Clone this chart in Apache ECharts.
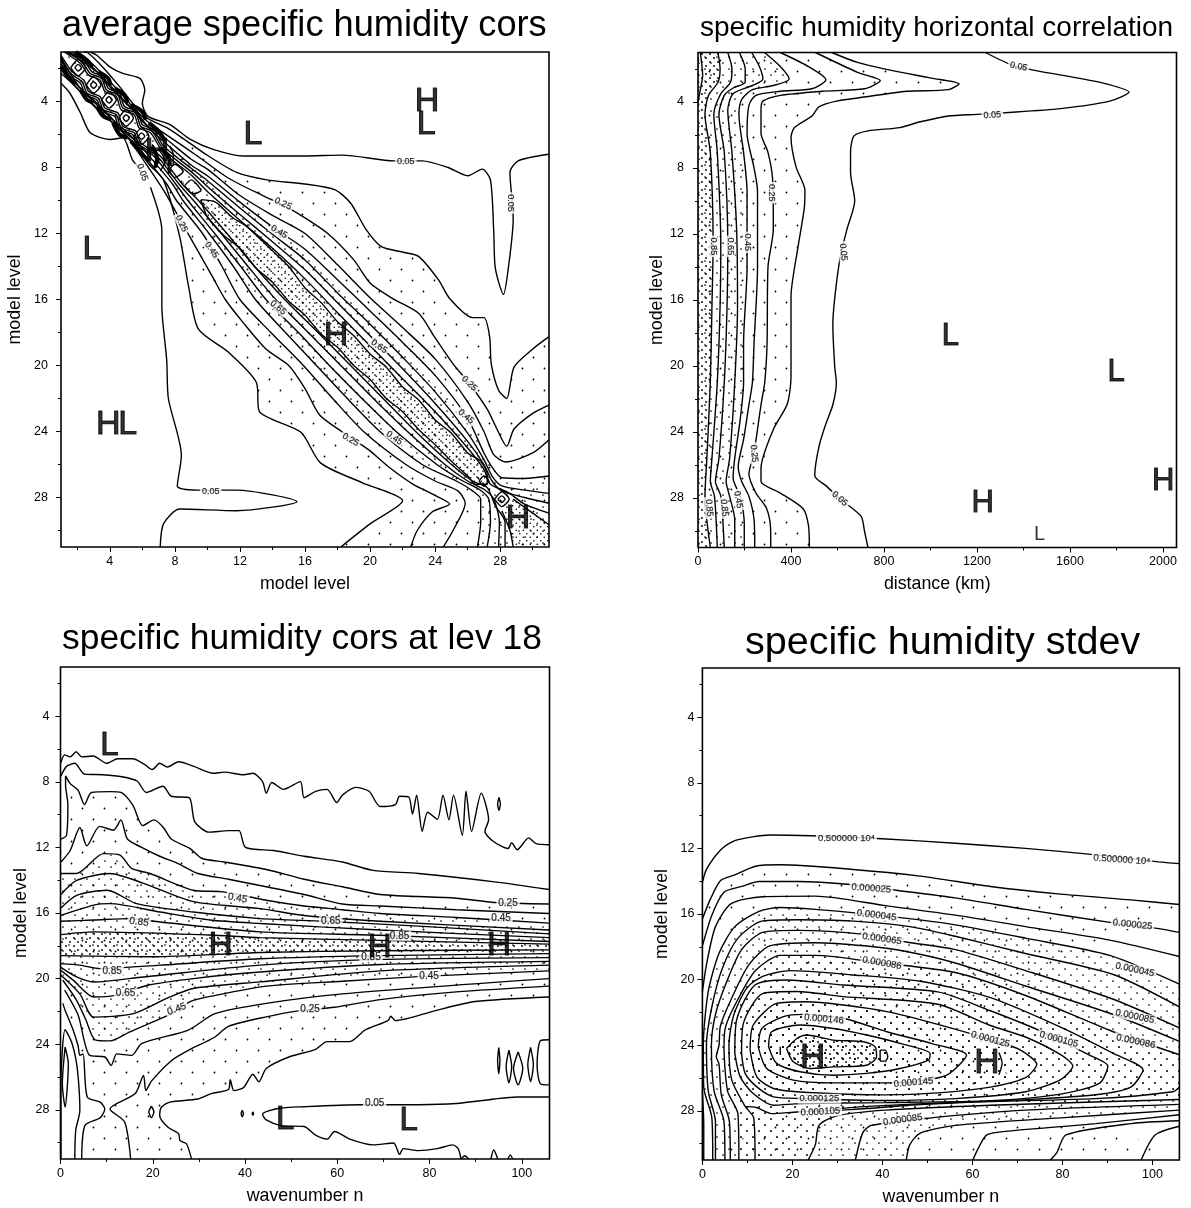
<!DOCTYPE html>
<html><head><meta charset="utf-8"><style>html,body{margin:0;padding:0;background:#fff}#c{width:1191px;height:1208px}</style>
<script src="https://cdn.jsdelivr.net/npm/echarts@6/dist/echarts.min.js"></script></head><body><div id="c"></div>
<script>
// ---------- panel 1: model level vs model level
const a05u=[[2.8,1],[3.2,1.2],[4,1.9],[4.8,2.3],[5.85,2.6],[6.15,3.3],[6,4.1],[6.35,4.9],[7.7,5.4],[8.95,6.3],[10.35,6.9],[12.2,7.3],[15.95,7.3],[18.3,7.25],[21.5,7.6],[23.2,7.6],[24.8,8],[26,8.5],[26.9,8.1],[27.4,8.75],[27.6,11.8],[27.7,14.1],[28.2,15.7],[28.5,14.1],[28.8,11.1],[28.6,8.3],[29.1,7.6],[31,7.2]];
const a15u=[[2.4,1],[2.65,1.05],[3.6,1.95],[4.6,3.1],[5.4,4.1],[6.3,5],[7.7,5.7],[9.9,7.2],[11.8,8.3],[13.65,8.75],[16,9],[17.85,9.35],[18.8,10.15],[19.75,11.75],[20.7,12.8],[22.1,13.15],[23,13.4],[24.2,14.8],[24.9,15.95],[26.3,17.1],[27,17.1],[27.35,18.25],[27.45,19.9],[27.9,21.5],[28.4,22],[28.85,20.1],[30,19],[31,18.25]];
const a25u=[[1.9,1],[2.9,1.7],[4.3,3.1],[5.3,4.2],[6.3,5.2],[7.6,6.1],[9.45,7.35],[11.3,8.65],[13.4,9.7],[14.6,10.25],[16,11.05],[17.4,12],[19,13.6],[20,15],[21.4,15.95],[23,16.85],[23.95,18.25],[25.1,19.9],[26.15,21.15],[27.2,22.65],[27.8,23.85],[28.4,24.9],[28.85,23.85],[30,22.9],[31,22.4]];
const a35u=[[1.7,1],[2.7,1.7],[4.1,3.1],[5.2,4.3],[6.2,5.4],[7.5,6.3],[9,7.5],[10,8.1],[12,9.7],[14,10.9],[16,12],[18,13.9],[20,15.9],[22,17.7],[24,19.6],[26,22.2],[27,24],[27.6,25.4],[28.35,25.85],[30,25.3],[31,24.5]];
const a45u=[[1.5,1],[2.5,1.7],[3.2,2.2],[4,3.1],[5,4.1],[5.6,4.6],[6.4,5.6],[7.4,6.5],[9,7.85],[10,8.5],[12,10.1],[14,11.6],[16,12.95],[18,14.8],[20,16.7],[22,18.6],[24,20.6],[26,23.2],[27,25.3],[27.6,26.3],[28.1,26.8],[29.5,26.85],[31,26.7]];
const a55u=[[1.4,1],[2.4,1.5],[2.9,2.2],[3.6,2.5],[3.9,3.2],[4.6,3.5],[4.9,4.3],[5.7,4.6],[6,5.4],[6.7,5.7],[7.3,6.7],[9,8.05],[10,8.8],[12,10.45],[14,12.05],[16,13.6],[18,15.6],[20,17.5],[22,19.5],[24,21.6],[26,24.1],[27,25.7],[27.5,26.7],[28.1,27.3],[29.5,27.55],[31,27.75]];
const a65u=[[1.3,1],[2.3,1.6],[2.8,2.3],[3.5,2.6],[3.8,3.3],[4.5,3.6],[4.8,4.4],[5.6,4.7],[5.9,5.5],[6.6,5.8],[7.3,6.9],[9,8.25],[10,9.15],[12,10.85],[14,12.5],[16,14.2],[18,16.2],[20,18.2],[22,20.2],[24,22.3],[26,24.6],[27,26],[27.5,27],[28.1,27.6],[29.5,28],[31,28.35]];
const a75u=[[1.2,1],[2.2,1.7],[2.7,2.4],[3.4,2.7],[3.7,3.4],[4.4,3.7],[4.7,4.5],[5.5,4.8],[5.8,5.6],[6.5,5.9],[7.3,7.1],[9,8.45],[10,9.45],[12,11.2],[14,12.9],[16,14.75],[18,16.8],[20,18.8],[22,20.8],[24,22.8],[26,25],[27,26.3],[27.4,27.2],[28.5,27.7],[29.5,28.4],[31,28.95]];
const a85u=[[28.8,28.1],[30,28.95],[31,29.65]];
const a05l=[[1,2.9],[1.55,3.5],[2.2,4.7],[2.8,5.9],[4,6.3],[4.8,6.2],[5.4,7.55],[5.9,8.1]];
const a05lb=[[6.5,9.2],[7.2,11.8],[7.2,16.4],[7.5,19.7],[7.6,22],[8.4,25.45],[8.15,27.3],[9.45,27.55],[11.8,27.55],[15.5,28.25],[11.8,28.8],[8.3,28.7],[7.3,29.6],[7.1,31]];
const a15l=[[1,2.3],[1.7,2.9],[3.05,4.3],[4.35,5.45],[5.6,6.65],[6.4,7.8],[7.3,8.75],[8.3,12.2],[8.85,15.25],[9.45,17.8],[11.3,19.2],[13,21],[13.2,22.8],[15.75,24.05],[16.95,25.9],[19.5,27.1],[22,28.2],[20,29.6],[18.2,31]];
const a25l=[[1,1.9],[1.7,2.9],[3.1,4.3],[4.2,5.3],[5.2,6.3],[6.1,7.6],[7.35,9.45],[8.4,11.3],[9.5,13.2],[10.3,14.6],[11.1,16],[12.2,17.4],[13.6,19],[15,20],[16,21.4],[16.9,23],[18.25,24],[19.9,25.1],[21.15,26.15],[22.65,27.2],[23.85,27.8],[24.9,28.4],[23.85,28.85],[22.9,30],[22.5,31]];
const a35l=[[1,1.7],[1.7,2.7],[3.1,4.1],[4.3,5.2],[5.4,6.2],[6.3,7.5],[7.5,9],[8.1,10],[9.7,12],[10.9,14],[12,16],[13.9,18],[15.9,20],[17.7,22],[19.6,24],[22.2,26],[24,27],[25.4,27.6],[25.85,28.35],[25.1,30],[24.5,31]];
const a45l=[[1,1.5],[1.7,2.5],[2.2,3.2],[3.1,4],[4.1,5],[4.6,5.6],[5.6,6.4],[6.5,7.4],[7.85,9],[8.5,10],[10.1,12],[11.6,14],[12.95,16],[14.8,18],[16.7,20],[18.6,22],[20.6,24],[23.2,26],[25.3,27],[26.3,27.6],[26.8,28.1],[26.8,29.5],[26.6,31]];
const a55l=[[1,1.4],[1.5,2.4],[2.2,2.9],[2.5,3.6],[3.2,3.9],[3.5,4.6],[4.3,4.9],[4.6,5.7],[5.4,6],[5.7,6.7],[6.7,7.3],[8.05,9],[8.8,10],[10.45,12],[12.05,14],[13.6,16],[15.6,18],[17.5,20],[19.5,22],[21.6,24],[24.1,26],[25.7,27],[26.7,27.5],[27.3,28.1],[27.4,29.5],[27.2,31]];
const a65l=[[1,1.3],[1.6,2.3],[2.3,2.8],[2.6,3.5],[3.3,3.8],[3.6,4.5],[4.4,4.8],[4.7,5.6],[5.5,5.9],[5.8,6.6],[6.9,7.3],[8.25,9],[9.15,10],[10.85,12],[12.5,14],[14.2,16],[16.2,18],[18.2,20],[20.2,22],[22.3,24],[24.6,26],[26,27],[27,27.5],[27.6,28.1],[27.95,29.5],[27.9,31]];
const a75l=[[1,1.2],[1.7,2.2],[2.4,2.7],[2.7,3.4],[3.4,3.7],[3.7,4.4],[4.5,4.7],[4.8,5.5],[5.6,5.8],[5.9,6.5],[7.1,7.3],[8.45,9],[9.45,10],[11.2,12],[12.9,14],[14.75,16],[16.8,18],[18.8,20],[20.8,22],[22.8,24],[25,26],[26.3,27],[27.2,27.4],[27.7,28.5],[28.3,29.5],[28.3,31]];
const a85l=[[28.1,28.8],[28.6,30],[28.8,31]];
const a85band=[[9.6,9.95],[10.5,10.1],[11.5,11],[12.3,11.5],[13,12.1],[14,13.05],[15,14],[16,15.3],[17,16.2],[18,17.35],[19,18.2],[20,19.3],[21,20.1],[22,21.3],[23,22.1],[24,23.3],[25,24.1],[26,25.3],[26.8,25.8],[27.2,26.6],[27.2,27.2],[26.5,27.2],[26,26.7],[25,25.8],[24,24.8],[23,23.9],[22,22.8],[21,22],[20,20.85],[19,20],[18,18.9],[17,18.1],[16,16.95],[15,16.1],[14,14.95],[13,14.1],[12,12.9],[11,12.1],[10,11],[9.6,9.95]];
const aLoops=[
 [[1.6,1.95],[2.05,1.45],[2.5,1.95],[2.05,2.45],[1.6,1.95]],[[1.85,1.95],[2.05,1.75],[2.25,1.95],[2.05,2.15],[1.85,1.95]],
 [[2.55,3],[3,2.5],[3.45,3],[3,3.5],[2.55,3]],[[2.8,3],[3,2.8],[3.2,3],[3,3.2],[2.8,3]],
 [[3.5,3.9],[3.95,3.4],[4.4,3.9],[3.95,4.4],[3.5,3.9]],[[3.75,3.9],[3.95,3.7],[4.15,3.9],[3.95,4.1],[3.75,3.9]],
 [[4.55,5],[5,4.5],[5.45,5],[5,5.5],[4.55,5]],[[4.8,5],[5,4.8],[5.2,5],[5,5.2],[4.8,5]],
 [[5.5,6.1],[5.95,5.6],[6.4,6.1],[5.95,6.6],[5.5,6.1]],[[5.75,6.1],[5.95,5.9],[6.15,6.1],[5.95,6.3],[5.75,6.1]],
 [[7.6,8.2],[8,7.8],[8.5,8.25],[8,8.6],[7.6,8.2]],
 [[8.6,9.1],[9,8.75],[9.6,9.4],[9.1,9.6],[8.6,9.1]],
 [[26.7,27],[27,26.7],[27.3,27],[27,27.3],[26.7,27]],
 [[27.65,28.1],[28.1,27.65],[28.55,28.1],[28.1,28.55],[27.65,28.1]],[[27.85,28.1],[28.1,27.9],[28.3,28.1],[28.1,28.3],[27.85,28.1]]
];
const aThick=[
 [[1.9,1],[2.6,1.5],[2.95,1.9]],[[3.3,2.2],[3.9,2.6],[4.05,3]],[[4.3,3.2],[4.9,3.6],[5.1,4.1]],[[5.3,4.2],[6,4.6],[6.2,5.1]],[[6.4,5.3],[7,5.8],[7.4,6.4]],
 [[1,1.9],[1.5,2.6],[1.9,2.95]],[[2.2,3.3],[2.6,3.9],[3,4.05]],[[3.2,4.3],[3.6,4.9],[4.1,5.1]],[[4.2,5.3],[4.6,6],[5.1,6.2]],[[5.3,6.4],[5.8,7],[6.4,7.6]],
 [[6.6,6.7],[6.9,7.4],[6.8,8]],[[7.1,6.8],[7.6,7.3],[7.7,7.9]]
];
const aBlack=[[[6.6,6.6],[7,7.6],[6.7,8.1]],[[7,6.9],[7.4,7.6],[7.1,8.2]],[[7.2,7],[7.6,7.5],[7.6,8.4]],[[7.7,6.7],[7.9,7.2],[7.9,7.9]]];
const aLabels=[[22.2,7.65,'0.05',0],[28.65,10.15,'0.05',-90],[14.65,10.2,'0.25',-25],[14.4,11.9,'0.45',-30],[26.1,21.1,'0.25',-45],[25.9,23.1,'0.45',-40],[20.55,18.85,'0.65',-35],[6,8.3,'0.05',-70],[8.4,11.4,'0.25',-65],[10.25,13,'0.45',-55],[14.35,16.5,'0.65',-40],[18.8,24.5,'0.25',-30],[21.5,24.4,'0.45',-35],[10.2,27.65,'0.05',0]];
const aLetters=[[12.8,6,'L'],[23.45,5.4,'L'],[23.5,4,'H'],[2.9,13,'L'],[3.9,23.6,'H'],[5.1,23.6,'L'],[17.9,18.2,'H'],[6.9,7.05,'H'],[29.1,29.3,'H']];

// ---------- panel 2: distance (km) vs model level
const b05=[[1236,1],[1349,1.75],[1454,2.1],[1635,2.55],[1756,2.9],[1854,3.4],[1771,3.95],[1560,4.4],[1319,4.65],[1198,4.75],[1078,4.85],[957,5.2],[867,5.55],[731,5.75],[671,6.05],[656,7.05],[656,8.25],[674,10],[641,11.7],[610,13.55],[588,15.9],[580,17.5],[588,20.05],[595,21],[580,22.35],[550,23.5],[520,24.9],[502,26.65],[550,27.25],[610,28.05],[701,29.1],[716,30],[731,31]];
const b15=[[575,1],[686,1.6],[837,2.1],[1003,2.55],[1123,2.9],[1078,3.25],[897,3.35],[716,3.7],[595,3.95],[520,4.3],[490,4.85],[415,5.55],[400,6.15],[422,7.95],[460,9.35],[457,10.45],[430,12.8],[400,15.8],[400,20.65],[384,22.3],[324,23.85],[271,26.2],[271,27],[354,27.7],[452,28.65],[475,29.65],[479,31]];
const b25=[[505,1],[686,2.2],[784,2.7],[716,3.2],[535,3.35],[354,3.6],[279,3.95],[271,4.5],[271,5.9],[301,7.05],[321,8.7],[324,11.7],[301,14],[297,18.65],[287,21],[271,22.35],[241,25.25],[219,26.55],[249,27.7],[294,28.6],[312,29.8],[313,31]];
const b35=[[354,1],[475,1.85],[550,2.65],[490,3.2],[354,3.35],[249,3.6],[219,4.2],[211,5.9],[241,8],[256,9.4],[256,14],[241,18.65],[234,21],[219,22.35],[196,24.45],[173,26.1],[188,27],[219,27.9],[241,29.3],[244,31]];
const b45=[[286,1],[354,1.85],[392,2.6],[324,3],[234,3.25],[188,3.85],[176,4.75],[196,7.05],[211,9.4],[211,14],[196,18.65],[196,21],[181,23.3],[158,25.6],[151,26.8],[181,27.9],[199,29.55],[199,31]];
const b55=[[231,1],[264,1.85],[279,2.6],[234,3],[151,3.5],[128,4.5],[146,7.05],[166,11.7],[170,16.35],[158,21],[136,25.6],[121,27],[136,27.9],[158,29.3],[158,31]];
const b65=[[178,1],[203,2],[203,2.8],[151,3.15],[113,3.6],[90,4.75],[113,7.05],[128,12.6],[125,16.35],[113,21],[90,25.6],[75,27],[98,27.9],[113,31]];
const b75=[[128,1],[146,2],[140,2.8],[98,3.5],[68,4.75],[83,7.05],[98,12.6],[95,16.35],[83,21],[60,25.6],[53,27],[71,27.9],[83,31]];
const b85=[[86,1],[95,2],[86,2.8],[45,3.6],[30,4.75],[53,7.05],[65,12.6],[60,16.35],[53,21],[38,25.6],[30,27.9],[53,31]];
const b95=[[10,1],[20,2.4],[8,3.4],[0,4]];
const bLabels=[[1379,1.85,'0.05',-12],[1266,4.8,'0.05',4],[625,13.1,'0.05',-85],[610,28.05,'0.05',-40],[316,9.5,'0.25',-90],[241,25.3,'0.25',-85],[65,12.75,'0.85',-90],[140,12.75,'0.65',-90],[211,12.5,'0.45',-90],[48,28.6,'0.85',-85],[113,28.6,'0.85',-85],[173,28.1,'0.45',-80]];
const bLetters=[[1085,18.2,'L'],[1798,20.4,'L'],[1224,28.35,'H'],[2001,27,'H']];
const bSmall=[[1469,30.2,'L']];

// ---------- panel 3: wavenumber n vs model level
const cA=[[0.1,6.83],[0.9,6.36],[2.1,6.48],[3.4,6.17],[4.6,6.48],[7.1,6.43],[10,6.87],[12.4,6.59],[15.7,6.59],[18.2,6.94],[19.9,7.25],[21.5,6.87],[23.2,7.1],[25.6,6.78],[28.9,7.06],[33.1,7.48],[35.5,7.41],[39.7,7.57],[41.7,7.48],[43.8,7.99],[44.6,8.69],[45.8,8.04],[48.3,8.46],[52,7.99],[52.8,8.97],[55.3,8.58],[57.8,8.46],[59.9,9.27],[61.1,8.81],[64,8.34],[66.9,8.58],[69.3,9.51],[72.6,9.39],[73.5,8.88],[75.5,8.93],[76.3,9.97],[77.2,8.81],[78.4,11.02],[79.6,9.86],[81.7,10.28],[82.9,8.81],[84.2,10.32],[85.2,8.81],[87.1,11.26],[87.9,8.58],[89.1,11.02],[91.2,8.69],[92.8,10.32],[92,11.02],[93.7,11.61],[97,12.07],[97.8,11.72],[99,12.14],[101.5,11.42],[103.1,11.77],[105.9,11.84]];
const cL2=[[0.1,7.64],[1.3,7.06],[3.1,6.87],[5.2,7.53],[9.2,7.57],[13.3,7.69],[16.6,7.95],[18.6,8.65],[22.2,8.27],[24,8.88],[27.9,8.97],[29.1,10.44],[32.2,11.07],[36.4,10.98],[38.7,10.98],[40.1,12],[46.2,12.19],[52.8,12.54],[61.1,12.89],[67.7,13.4],[77.6,13.59],[94.1,14.1],[105.9,14.57]];
const cL3=[[0.1,11.49],[1.3,11.26],[1.6,9.39],[1.1,8.2],[1.1,7.64],[2.1,8.11],[3.8,8.51],[5.2,9.39],[6.7,8.65],[10.8,8.6],[13.1,8.65],[15.7,9.44],[17.8,10.67],[20.3,10.32],[22.3,10.79],[24,11.49],[28.1,12.07],[30.6,12.66],[35.5,12.89],[44.6,13.35],[52.8,13.94],[61.1,14.4],[69.3,14.87],[85.8,15.1],[94.1,15.36],[105.9,15.45]];
const cL35=[[0.1,12.89],[2.1,12.19],[4.2,10.79],[5.7,11.91],[8.5,10.72],[11.5,10.95],[13.1,10.32],[14.5,11.49],[17.6,12],[21.5,12.54],[25.6,13],[29.8,13.59],[36.4,13.94],[44.6,14.4],[52.8,14.87],[61.1,15.45],[69.3,15.57],[85.8,15.8],[105.9,16.03]];
const cA45=[[0.1,13.59],[3.5,13.59],[9.3,12.38],[12.9,12.47],[15.4,13.28],[19.4,13.59],[28.8,14.61],[35.3,14.71],[44.6,15.22],[52.8,15.57],[61.1,15.8],[69.3,16.03],[85.8,16.27],[105.9,16.62]];
const cB55=[[0.1,14.87],[3.5,14.01],[10.7,13.59],[18,14.19],[28.8,15.31],[43.3,15.73],[52.8,16.15],[69.3,16.5],[105.9,17.04]];
const cC65=[[0.1,15.69],[3.5,14.92],[10.1,14.61],[16.5,15.43],[28.8,15.94],[43.3,16.34],[57,16.5],[77.6,16.8],[105.9,17.27]];
const cD75=[[0.1,16.15],[7.2,15.52],[10.7,15.43],[21.6,15.94],[32.4,16.43],[43.3,16.64],[69.3,17.04],[105.9,17.5]];
const cE85=[[0.1,16.5],[7.2,16.43],[15.1,16.34],[21.6,16.55],[43.3,17.15],[69.3,17.36],[105.9,17.74]];
const cF95=[[0,17.32],[7.2,17.15],[32.2,17.34],[43.3,17.5],[69.3,17.67],[106,17.9]];
const cG95=[[0,18.6],[19.9,18.67],[43.3,18.41],[69.3,18.3],[106,18.25]];
const cH85=[[0,19.09],[4.2,19.18],[8.6,19.39],[21.6,19.18],[43.3,18.79],[69.3,18.6],[105.9,18.48]];
const cI75=[[0,19.3],[3.5,19.9],[7.2,20.21],[18,19.9],[43.3,19.18],[69.3,18.83],[105.9,18.72]];
const cJ65=[[0,19.48],[2.8,20.11],[7.2,21.12],[11.8,21.02],[18.7,20.42],[28.8,20],[43.3,19.6],[69.3,19.14],[105.9,18.95]];
const cK55=[[0,19.76],[4.2,20.93],[7.2,22.35],[15.8,22.14],[23.7,21.12],[28.8,20.6],[43.3,20.2],[69.3,19.53],[105.9,19.18]];
const cL45=[[0.5,20.1],[3.4,21.28],[5.4,22.45],[7.5,23.73],[10.8,23.8],[14.9,23.26],[20.7,22.56],[24.1,22.14],[28.1,21.4],[33.1,21.05],[44.6,20.46],[61.1,20.16],[77.6,19.88],[105.9,19.53]];
const cR35=[[0.9,20.7],[3.8,22.21],[6.3,24.68],[9.6,24.78],[11,25.29],[12.2,24.59],[15.4,24.68],[17.6,23.96],[27.7,23.14],[33.5,22.14],[44.6,21.51],[61.1,20.93],[105.9,20]];
const cU25=[[15.2,31],[13.9,28.74],[10.7,27.95],[16.2,27.01],[18,25.9],[18.5,26.83],[19.8,26.22],[24.1,24.99],[27.7,24.38],[33.5,23.56],[36.4,22.91],[44.6,22.33],[51.2,21.98],[59.4,21.75],[69.3,21.28],[85.8,20.81],[105.9,20.46]];
const cV15=[[28.4,31],[27.3,30.07],[25.9,29.88],[25.6,29.46],[23.3,29.07],[21.5,28.34],[21.9,27.83],[23.7,27.53],[29.8,27.34],[32.7,27.01],[36.4,26.76],[36.8,26.17],[37.6,26.83],[39.7,26.64],[41.7,25.83],[43,26.29],[44.6,25.48],[49.5,24.78],[55.3,24.31],[57.8,23.84],[62.7,23.84],[66,23.14],[71,22.56],[71.6,22.3],[72.6,22.56],[80.9,21.98],[89.9,21.4],[105.9,21.12]];
const cW05=[[105.9,27.22],[99,27.22],[94.1,27.34],[85.8,27.62],[77.6,27.69],[65.2,27.69],[52.8,27.81],[47.1,27.92],[43.8,28.27],[44.6,28.62],[47.9,28.97],[52.8,29.02],[55.3,29.55],[57.8,29.79],[59.4,29.32],[62.7,29.79],[67.7,30.14],[72.2,30.02],[73.5,30.72],[74.3,30.37],[77.6,30.49],[81.7,30.37],[85,30.14],[86.2,30.37],[86.8,31]];
const cQ=[[0.5,21.51],[1,21.93],[2.6,23.03],[3.8,24.08],[4.2,24.68],[4.9,24.59],[5.8,27.22],[8.6,27.53],[9.6,27.95],[8.6,28.48],[5.3,28.95],[4.6,31]];
const cP=[[0.1,31],[0.1,26.41],[1,23.12],[2.4,23.87],[3.5,25.2],[4,26.62],[4.2,28.04],[3.3,29.25],[3.1,31]];
const cBits=[
 [[1,24.17],[1.7,25.2],[1,27.83],[0.4,26.41],[1,24.17]],
 [[95.05,8.95],[95.35,9.35],[95.05,9.75],[94.75,9.35],[95.05,8.95]],
 [[95,24.2],[95.25,25],[95,25.8],[94.75,25],[95,24.2]],
 [[97.2,24.36],[97.8,25.36],[97.2,26.36],[96.6,25.36],[97.2,24.36]],
 [[99.2,24.48],[100.2,25.48],[99.2,26.48],[98.2,25.48],[99.2,24.48]],
 [[101.9,24.19],[102.5,25.24],[101.9,26.29],[101.3,25.24],[101.9,24.19]],
 [[105.9,23.73],[104,23.8],[103.3,25.24],[104,26.4],[105.9,26.48]],
 [[19.7,27.78],[20.25,28.13],[19.7,28.48],[19.15,28.13],[19.7,27.78]],
 [[39.4,28.03],[39.65,28.23],[39.4,28.43],[39.15,28.23],[39.4,28.03]],
 [[41.7,28.13],[41.85,28.23],[41.7,28.33],[41.55,28.23],[41.7,28.13]],
 [[86.9,31],[87.6,30.8],[88.5,31]],[[93.3,31],[93.9,30.45],[94.8,31]],[[97,31],[97.5,30.75],[98,31]]
];
const cLabels=[[38.4,15.1,'0.45',-10],[97,15.38,'0.25',0],[95.5,16.34,'0.45',0],[58.6,16.5,'0.65',0],[17,16.55,'0.85',-8],[73.5,17.39,'0.85',0],[67.3,18.72,'0.85',0],[11.2,19.53,'0.85',0],[14.1,20.88,'0.65',0],[25.2,21.86,'0.45',20],[54.1,21.84,'0.25',0],[79.9,19.83,'0.45',0],[68.1,27.62,'0.05',0]];
const cLetters=[[34.7,18,'H'],[69.2,18.1,'H'],[95.1,18,'H'],[10.6,5.8,'L'],[75.5,28.7,'L'],[48.7,28.6,'L']];

// ---------- panel 4: wavenumber n vs model level
const d05=[[0,14.09],[0.9,13.28],[4,12.11],[7.2,11.53],[11.1,11.3],[15,11.18],[24.3,11.23],[39.9,11.41],[56.2,11.69],[71.8,12],[85.8,12.35],[101.4,12.82],[106,12.93]];
const d15=[[0,16.3],[1.7,15.14],[4,13.97],[7.2,13.62],[11.8,13.09],[17.3,13],[32.9,13.27],[48.4,13.69],[64,14.32],[79.6,14.79],[95.2,15.14],[106,15.42]];
const d25=[[0,17.94],[2.1,16.07],[4.8,14.67],[8.7,14.32],[12.6,14.02],[21.2,14.02],[32.9,14.2],[43,14.55],[56.2,15.02],[71.8,15.72],[91.3,16.54],[101.4,16.89],[106,17.12]];
const d35=[[106,18.59],[90.5,17.59],[71.8,16.77],[56.2,16.07],[40.7,15.49],[25.1,14.91],[13.4,14.95],[6.4,15.37],[2.9,16.77],[0.9,19.1],[0,20.74]];
const d35b=[[0,26.8],[0.3,28.9],[0.3,31]];
const d45=[[106,20.27],[90.5,18.52],[71.8,17.47],[56.2,16.66],[43,16.19],[25.1,15.72],[17.3,15.6],[12.6,15.84],[7.2,16.77],[3.7,18.4],[1.3,20.74],[0.2,24],[0.3,26.57],[2.1,28.43],[2.3,31]];
const d55=[[106,21.67],[91.3,19.69],[71.8,18.41],[56.2,17.36],[46.1,16.77],[32.9,16.42],[21.2,16.35],[13.4,16.42],[7.9,17.47],[4.4,19.34],[2.1,21.67],[0.9,24],[1.3,26.8],[2.9,28.66],[2.9,31]];
const d65=[[106,22.95],[91.3,21.2],[71.8,19.45],[56.2,18.17],[45.3,17.71],[36,17.24],[21.2,17],[13.4,17.12],[8.7,18.17],[5.2,20.27],[2.9,22.13],[2,24],[2.6,26.8],[4.8,28.66],[5,31]];
const d75=[[106,23.77],[91.3,22.13],[71.8,20.39],[56.2,18.99],[45.3,18.29],[36,17.94],[25.1,17.75],[15,17.94],[10.3,19.1],[6.4,21.2],[4,22.83],[3.7,24],[3.1,24.7],[3.7,25.16],[4.2,27.03],[6,28.66],[6.2,31]];
const d85=[[106,24.58],[91.3,23.18],[71.8,20.97],[56.2,19.57],[39.9,18.99],[25.1,18.52],[17.3,18.52],[11.8,19.45],[7.9,21.2],[5.2,22.83],[4.8,24],[5.6,26.8],[7.9,28.19],[8.1,31]];
const d95=[[11.7,31],[11.4,28.43],[9.5,27.73],[6.5,26.1],[5.9,24],[7,22.13],[9.9,20.5],[13.4,19.8],[19.6,19.45],[32.9,19.7],[48.4,20.1],[64,21.1],[79.6,22.9],[91.3,24.5],[97.9,25.5],[95.2,26.55],[87.4,27.02],[71.8,27.32],[48.4,27.62],[32.9,27.93],[21,28.07],[15.4,28.17],[12,27.8],[9.5,27.73]];
const d105=[[7.2,24.5],[7.6,22.47],[11.7,20.33],[18.7,20.02],[31.3,20.33],[52.3,20.75],[64,21.9],[75.7,23.2],[85.8,24.58],[90.1,25.27],[88.2,26.33],[79.6,26.98],[64,27.38],[40.7,27.5],[21.7,27.56],[15.8,27.66],[11.3,26.95],[8.4,25.93],[7.2,24.5]];
const d115=[[8.7,24.5],[9.1,22.67],[13.5,20.84],[21,20.73],[31.3,21.04],[52.3,21.5],[64,22.8],[71.8,23.5],[79.6,24.58],[82.3,25.27],[79.6,26.1],[71.8,26.84],[56.2,27.26],[40.7,27.37],[21.7,27.25],[15.8,27.15],[12.1,26.54],[9.5,25.72],[8.7,24.5]];
const d125=[[10.6,24.3],[11.3,22.77],[16.5,21.45],[23.2,21.35],[31.3,21.55],[41,21.95],[51.3,22.65],[64,23.65],[70.2,24.23],[74.3,25.16],[71.8,25.98],[64,26.56],[52.3,26.91],[40.7,27.03],[21.7,26.85],[15.8,26.64],[12.1,25.93],[10.6,24.3]];
const d145=[[12.4,24.1],[13.2,22.98],[18,22.26],[22.4,22.12],[31.3,22.36],[41,23.18],[51,23.9],[58.7,24.6],[54.3,25.83],[46.9,26.23],[41,26.3],[29.1,26.3],[20.2,26.13],[14.3,25.42],[12.4,24.1]];
const d155=[[14.7,24.1],[15.4,23.18],[21.7,22.77],[29.1,22.98],[36.5,23.38],[43.9,23.89],[50.6,24.5],[50.2,24.91],[43.9,25.42],[36.5,25.72],[29.1,25.83],[21.7,25.62],[16.5,25.11],[14.7,24.1]];
const d165=[[18.7,24.2],[21,23.59],[23.2,23.38],[29.1,23.69],[35.8,23.79],[38.4,24.1],[38.7,24.71],[36.5,25.22],[29.1,25.32],[23.9,25.42],[20.2,25.01],[18.7,24.2]];
const dBits=[[[39.5,24.3],[40.6,24.3],[41.2,24.71],[40.6,24.97],[39.5,24.97],[39.5,24.3]],[[17.3,24.1],[17.3,24.6]],[[65.9,24.45],[66.6,25.1],[65.9,25.8]]];
const dB0=[[106,26.56],[104.5,26.84],[87.4,27.26],[56.2,27.49],[36.8,27.73],[29,27.9]];
const dB1=[[23.5,31],[25.1,30.06],[25.9,28.89],[29.8,28.31],[40.7,27.96],[64,27.66],[106,27.31]];
const dB2=[[34,31],[35.6,29.36],[37.5,28.89],[50.8,28.43],[71.8,27.96],[106,27.61]];
const dB3=[[45.3,31],[46.1,30.06],[48.4,29.36],[56.2,28.89],[79.6,28.43],[106,27.96]];
const dB4=[[60.1,31],[61.3,30.29],[63.2,29.47],[67.9,29.24],[87.4,28.78],[106,28.24]];
const dB5=[[77.3,31],[78.8,30.53],[80.8,29.47],[95.2,28.78],[106,28.61]];
const dB6=[[97.5,31],[100.6,29.47],[106,28.94]];
const dLabels=[[32,11.36,'0.500000 10⁴',0],[93.2,12.7,'0.500000 10⁴',-4],[37.5,14.45,'0.000025',-4],[95.6,16.65,'0.000025',-6],[38.7,16.08,'0.000045',-7],[96.1,19.4,'0.000045',-12],[39.9,17.52,'0.000065',-8],[96.1,22.25,'0.000085',-12],[39.9,18.99,'0.000086',-10],[96.3,23.77,'0.000086',-12],[27,22.41,'0.000146',-5],[64,23.65,'0.000125',-15],[79.2,23.65,'0.000105',-15],[46.9,26.28,'0.000145',5],[26,27.26,'0.000125',0],[26.2,28.07,'0.000105',3],[44.5,28.55,'0.000085',8]];
const dLetters=[[24.5,24.8,'H'],[63.2,25.1,'H']];

// ---------- ticks
const levelMajor=[4,8,12,16,20,24,28];
const levelMinor=[2,6,10,14,18,22,26,30];
const kmMajor=[0,400,800,1200,1600,2000];
const kmMinor=[200,600,1000,1400,1800];
const waveMajor=[0,20,40,60,80,100];
const waveMinor=[10,30,50,70,90];

// ---------- stipple patterns
function dots(step,r){
  const c=document.createElement('canvas');c.width=step*2;c.height=step*2;
  const g=c.getContext('2d');g.fillStyle='#000';
  [[.5,.5],[1.5,1.5]].forEach(p=>{g.beginPath();g.arc(p[0]*step,p[1]*step,r,0,7);g.fill();});
  return {image:c,repeat:'repeat'};
}
const sparse=dots(11,.9), medium=dots(6,.85), dense=dots(3.5,.8), strip=dots(4,.95);

const grids=[
 {left:61,top:52,width:488,height:495},
 {left:698,top:52.5,width:478.5,height:495},
 {left:60.5,top:667,width:489,height:492},
 {left:702.4,top:668,width:477,height:492}
];
const titles=[
 ['average specific humidity cors',62,8,36.2],
 ['specific humidity horizontal correlation',700,14,28],
 ['specific humidity cors at lev 18',62,622,35.4],
 ['specific humidity stdev',745,623,39.5]
];
const rev=a=>a.slice().reverse();
const panels=[
 {xr:[1,31],xM:levelMajor,xm:levelMinor,xn:'model level',ym:13,yg:37,
  lines:[a05u,a15u,a25u,a35u,a45u,a55u,a65u,a75u,a85u,a05l,a05lb,a15l,a25l,a35l,a45l,a55l,a65l,a75l,a85l,a85band,...aLoops,...aBlack],
  thick:aThick,
  stip:[[a15u.concat([[31,31]],rev(a15l),[[1,1]]),sparse],[a45u.concat([[31,31]],rev(a45l)),medium],[a85band,dense],[a85u.concat([[31,31]],rev(a85l)),dense]],
  labels:aLabels,fs:9,letters:aLetters,ls:34},
 {xr:[0,2058],xM:kmMajor,xm:kmMinor,xn:'distance (km)',ym:14,yg:31.5,
  lines:[b05,b15,b25,b35,b45,b55,b65,b75,b85,b95],
  stip:[[b15.concat([[0,31],[0,1]]),sparse],[b45.concat([[0,31],[0,1]]),medium],[b85.concat([[0,31],[0,1]]),strip]],
  labels:bLabels,fs:9,letters:bLetters,ls:31,small:bSmall},
 {xr:[0,106],xM:waveMajor,xm:waveMinor,xn:'wavenumber n',ym:11,yg:30.5,
  lines:[cA,cL2,cL3,cL35,cA45,cB55,cC65,cD75,cE85,cF95,cG95,cH85,cI75,cJ65,cK55,cL45,cR35,cU25,cV15,cW05,cQ,cP,...cBits],
  stip:[[cL3.concat([[106,15.45],[106,21.12]],rev(cV15),rev(cQ)),sparse],
        [cA45.concat([[106,16.62],[106,19.53]],rev(cL45)),medium],
        [cF95.concat(rev(cG95)),strip]],
  labels:cLabels,fs:10,letters:cLetters,ls:33},
 {xr:[0,106],xM:waveMajor,xm:waveMinor,xn:'wavenumber n',ym:8,yg:31,
  lines:[d05,d15,d25,d35,d35b,d45,d55,d65,d75,d85,d95,d105,d115,d125,d145,d155,d165,dB0,dB1,dB2,dB3,dB4,dB5,dB6,...dBits],
  stip:[[rev(d15).concat([[106,31],[0,31]]),sparse],
        [d45.concat(dB3,[[106,27.96]]),medium],
        [d85.concat(dB1,[[106,27.31]]),medium],
        [d125,medium],[d165,strip],[d155,medium]],
  labels:dLabels,fs:9.5,letters:dLetters,ls:35}
];
const FONT='"Liberation Sans",Arial,sans-serif';
const hidden={color:'rgba(0,0,0,0)'};
const opt={animation:false,backgroundColor:'#fff',
 title:titles.map(t=>({text:t[0],left:t[1],top:t[2],padding:0,textStyle:{fontFamily:FONT,fontSize:t[3],fontWeight:'normal',color:'#000'}})),
 grid:grids.map(g=>Object.assign({show:true,borderColor:'#000',borderWidth:1.6,backgroundColor:'#fff',containLabel:false},g)),
 xAxis:[],yAxis:[],series:[]};
panels.forEach((p,i)=>{
 const ax=(extra)=>Object.assign({type:'value',gridIndex:i,splitLine:{show:false},axisLine:{show:false,onZero:false},minorTick:{show:false},silent:true},extra);
 const xbase={min:p.xr[0],max:p.xr[1],position:'bottom'};
 const ybase={min:1,max:31,inverse:true,position:'left'};
 opt.xAxis.push(ax(Object.assign({},xbase,{name:p.xn,nameLocation:'middle',nameGap:28,nameTextStyle:{fontFamily:FONT,fontSize:17.8,color:'#000'},
   axisTick:{show:true,length:5,customValues:p.xM,lineStyle:{color:'#000',width:1}},
   axisLabel:{show:true,customValues:p.xM,fontFamily:FONT,fontSize:12.5,color:'#000',margin:8,formatter:v=>String(v)}})));
 opt.yAxis.push(ax(Object.assign({},ybase,{name:'model level',nameLocation:'middle',nameGap:p.yg,nameRotate:90,nameTextStyle:{fontFamily:FONT,fontSize:17.8,color:'#000'},
   axisTick:{show:true,length:5,customValues:levelMajor,lineStyle:{color:'#000',width:1}},
   axisLabel:{show:true,customValues:levelMajor,fontFamily:FONT,fontSize:12.5,color:'#000',margin:p.ym,formatter:v=>String(v)}})));
 opt.xAxis.push(ax(Object.assign({},xbase,{axisTick:{show:true,length:3,customValues:p.xm,lineStyle:{color:'#000',width:1}},axisLabel:{show:false}})));
 opt.yAxis.push(ax(Object.assign({},ybase,{axisTick:{show:true,length:3,customValues:levelMinor,lineStyle:{color:'#000',width:1}},axisLabel:{show:false}})));
 const xi=i*2,yi=i*2;
 p.stip.forEach(s=>{
  opt.series.push({type:'custom',xAxisIndex:xi,yAxisIndex:yi,silent:true,z:1,clip:true,data:[[p.xr[0],1]],
   renderItem:(params,api)=>({type:'polygon',shape:{points:s[0].map(q=>api.coord(q))},style:{fill:s[1],stroke:null}})});
 });
 const addLine=(l,w)=>opt.series.push({type:'line',xAxisIndex:xi,yAxisIndex:yi,data:l,showSymbol:false,symbol:'none',smooth:0.25,silent:true,z:3,clip:true,lineStyle:{color:'#000',width:w}});
 p.lines.forEach(l=>addLine(l,1.4));
 (p.thick||[]).forEach(l=>addLine(l,4));
 opt.series.push({type:'scatter',xAxisIndex:xi,yAxisIndex:yi,symbolSize:1,itemStyle:hidden,silent:true,z:5,
  data:p.labels.map(a=>({value:[a[0],a[1]],label:{show:true,position:'inside',formatter:a[2],rotate:a[3],fontFamily:FONT,fontSize:p.fs,color:'#000',textBorderColor:'#000',textBorderWidth:.25,backgroundColor:'#fff',padding:[0,2]}}))});
 opt.series.push({type:'scatter',xAxisIndex:xi,yAxisIndex:yi,symbolSize:1,itemStyle:hidden,silent:true,z:6,
  data:p.letters.map(a=>({value:[a[0],a[1]],label:{show:true,position:'inside',formatter:a[2],fontFamily:FONT,fontSize:p.ls,color:'#000',textBorderColor:'#000',textBorderWidth:1.1}}))});
 if(p.small)opt.series.push({type:'scatter',xAxisIndex:xi,yAxisIndex:yi,symbolSize:1,itemStyle:hidden,silent:true,z:6,
  data:p.small.map(a=>({value:[a[0],a[1]],label:{show:true,position:'inside',formatter:a[2],fontFamily:FONT,fontSize:20,color:'#000'}}))});
});
echarts.init(document.getElementById('c'),null,{renderer:'canvas'}).setOption(opt);
</script></body></html>
